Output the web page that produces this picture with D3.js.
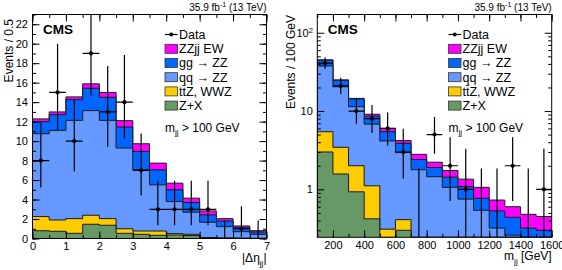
<!DOCTYPE html>
<html>
<head>
<meta charset="utf-8">
<script src="https://cdn.jsdelivr.net/npm/d3@7"></script>
<style>
  body { margin: 0; background: #fff; }
  text { font-family: "Liberation Sans", Arial, Helvetica, sans-serif; fill: #000; }
</style>
</head>
<body>
<div id="chart"></div>
<script>
////////////////////////////////////////////////////////////////////////
// Data

// |delta eta_jj| panel, bins of 0.5
const etaEdges = [0, 0.5, 1, 1.5, 2, 2.5, 3, 3.5, 4, 4.5, 5, 5.5, 6, 6.5, 7];
const etaZX  = [0.80, 0.74, 0.53, 1.46, 1.36, 0.53, 0.43, 0.33, 0.36, 0.30, 0.05, 0.03, 0.02, 0.01];
const etaTTZ = [1.45, 1.16, 1.51, 0.93, 0.68, 0.47, 0.34, 0.44, 0.14, 0.13, 0.05, 0.03, 0.02, 0.01];
const etaQQ  = [8.51, 9.20, 10.09, 10.74, 10.09, 8.29, 6.28, 4.74, 3.29, 2.27, 1.57, 1.16, 0.66, 0.41];
const etaGG  = [1.24, 1.62, 2.13, 2.30, 2.37, 2.16, 1.89, 1.54, 1.21, 0.99, 0.75, 0.58, 0.41, 0.24];
const etaEW  = [0.28, 0.28, 0.28, 0.45, 0.50, 0.65, 0.79, 0.69, 0.68, 0.45, 0.41, 0.24, 0.18, 0.13];
const etaData  = [8, 15, 10, 19, 13, 14, 7, 3, 3, 3, 3, 0, 1, 0];
const etaErrLo = [2.76, 3.87, 3.11, 4.32, 3.58, 3.72, 2.58, 1.63, 1.63, 1.63, 1.63, 0, 0.83, 0];
const etaErrHi = [3.94, 4.99, 4.26, 5.49, 4.71, 4.85, 3.77, 2.92, 2.92, 2.92, 2.92, 1.84, 2.30, 1.84];
const etaXTicks = [0, 1, 2, 3, 4, 5, 6, 7];
const etaYTicks = [0, 2, 4, 6, 8, 10, 12, 14, 16, 18, 20, 22];

// m_jj panel, bins of 100 GeV
const mjjEdges = [100, 200, 300, 400, 500, 600, 700, 800, 900, 1000, 1100, 1200, 1300, 1400, 1500, 1600];
const mjjZX  = [3.00, 1.57, 0.93, 0.42, 0.20, 0.30, 0.03, 0.02, 0.01, 0.01, 0.01, 0.01, 0.01, 0.01, 0.01];
const mjjTTZ = [2.44, 1.87, 1.07, 0.69, 0.11, 0.11, 0.02, 0.02, 0.01, 0.01, 0.01, 0.01, 0.01, 0.01, 0.01];
const mjjQQ  = [32.2, 16.96, 9.35, 5.69, 3.84, 2.54, 1.73, 1.41, 1.04, 0.73, 0.52, 0.30, 0.24, 0.18, 0.15];
const mjjGG  = [6.90, 4.30, 2.95, 1.80, 1.30, 0.92, 0.62, 0.45, 0.37, 0.33, 0.23, 0.21, 0.18, 0.12, 0.13];
const mjjEW  = [0.50, 0.30, 0.20, 0.50, 0.55, 0.33, 0.40, 0.32, 0.31, 0.27, 0.29, 0.20, 0.16, 0.16, 0.15];
const mjjData  = [41, 21, 10, 8, 6, 3, 0, 5, 2, 1, 0, 0, 2, 0, 1];
const mjjErrLo = [6.38, 4.55, 3.11, 2.76, 2.38, 1.63, 0, 2.16, 1.29, 0.83, 0, 0, 1.29, 0, 0.83];
const mjjErrHi = [7.46, 5.69, 4.26, 3.94, 3.58, 2.92, 1.84, 3.38, 2.64, 2.30, 1.84, 1.84, 2.64, 1.84, 2.30];
const mjjXTicks = [200, 400, 600, 800, 1000, 1200, 1400, 1600];
const mjjYTicks = [1, 10, 100];

const legendNames = ["ZZjj EW", "gg \u2192 ZZ", "qq \u2192 ZZ", "tt\u0304Z, WWZ", "Z+X"];
const colors = ["#ff00ff", "#0066ff", "#6699ff", "#ffcc00", "#669966"];

////////////////////////////////////////////////////////////////////////
// Layout

const W = 562, H = 270;
const svg = d3.select("#chart").append("svg")
  .attr("width", W).attr("height", H);
svg.append("rect").attr("width", W).attr("height", H).attr("fill", "#fff");

function drawPanel(p) {
  const g = svg.append("g");
  const [x0, x1] = p.x.range();
  const [yb, yt] = p.y.range();

  g.append("clipPath").attr("id", p.id + "-clip")
    .append("rect").attr("x", x0).attr("y", yt).attr("width", x1 - x0).attr("height", yb - yt);

  // stack, bottom layer first
  const layers = [p.zx, p.ttz, p.qq, p.gg, p.ew];
  const cum = [];
  layers.forEach((l, k) => {
    cum.push(l.map((v, i) => v + (k > 0 ? cum[k - 1][i] : 0)));
  });
  const layerColors = [colors[4], colors[3], colors[2], colors[1], colors[0]];

  const plot = g.append("g").attr("clip-path", `url(#${p.id}-clip)`);
  for (let k = cum.length - 1; k >= 0; k--) {
    const pts = [];
    cum[k].forEach((v, i) => {
      pts.push([p.x(p.edges[i]), p.y(v)], [p.x(p.edges[i + 1]), p.y(v)]);
    });
    plot.append("path")
      .attr("d", d3.area().x(d => d[0]).y0(yb).y1(d => d[1])(pts))
      .attr("fill", layerColors[k]);
    plot.append("path")
      .attr("d", d3.line()([[pts[0][0], yb], ...pts, [pts[pts.length - 1][0], yb]]))
      .attr("fill", "none").attr("stroke", "#1a1a1a").attr("stroke-width", 1);
  }

  // data with error bars
  const ymin = p.y.domain()[0];
  p.data.forEach((n, i) => {
    const cx = p.x((p.edges[i] + p.edges[i + 1]) / 2);
    const lo = Math.max(n - p.errLo[i], ymin);
    plot.append("line")
      .attr("x1", cx).attr("x2", cx)
      .attr("y1", p.y(lo)).attr("y2", p.y(n + p.errHi[i]))
      .attr("stroke", "#000").attr("stroke-width", 1.2);
    if (n > 0) {
      plot.append("line")
        .attr("x1", p.x(p.edges[i])).attr("x2", p.x(p.edges[i + 1]))
        .attr("y1", p.y(n)).attr("y2", p.y(n))
        .attr("stroke", "#000").attr("stroke-width", 1.2);
      plot.append("circle").attr("cx", cx).attr("cy", p.y(n)).attr("r", 2.1).attr("fill", "#000");
    }
  });

  // axes, ticks inside on all four sides
  const ax = (axis, tx, ty) => {
    const a = g.append("g").attr("transform", `translate(${tx},${ty})`).call(axis);
    a.select(".domain").remove();
    a.selectAll("line").attr("stroke", "#000");
    a.selectAll("text").attr("font-size", 11).attr("fill", "#000")
      .style("font-family", '"Liberation Sans", Arial, sans-serif');
    return a;
  };
  ax(d3.axisBottom(p.x).tickValues(p.xTicks).tickSize(-7).tickPadding(3.5).tickFormat(p.xFmt), 0, yb);
  ax(d3.axisBottom(p.x).tickValues(p.xMinor).tickSize(-3.5).tickFormat(""), 0, yb);
  ax(d3.axisTop(p.x).tickValues(p.xTicks).tickSize(-7).tickFormat(""), 0, yt);
  ax(d3.axisTop(p.x).tickValues(p.xMinor).tickSize(-3.5).tickFormat(""), 0, yt);
  const yl = ax(d3.axisLeft(p.y).tickValues(p.yTicks).tickSize(-7).tickPadding(4.5).tickFormat(p.yFmt), x0, 0);
  ax(d3.axisLeft(p.y).tickValues(p.yMinor).tickSize(-3.5).tickFormat(""), x0, 0);
  ax(d3.axisRight(p.y).tickValues(p.yTicks).tickSize(-7).tickFormat(""), x1, 0);
  ax(d3.axisRight(p.y).tickValues(p.yMinor).tickSize(-3.5).tickFormat(""), x1, 0);
  if (p.yLog) {
    yl.selectAll("text").text(null).each(function (d) {
      const t = d3.select(this);
      if (d === 100) {
        t.append("tspan").text("10");
        t.append("tspan").attr("dy", "-0.45em").attr("font-size", 7.5).text("2");
      } else {
        t.text(d);
      }
    });
  }

  g.append("rect")
    .attr("x", x0).attr("y", yt).attr("width", x1 - x0).attr("height", yb - yt)
    .attr("fill", "none").attr("stroke", "#000").attr("stroke-width", 1);

  // titles
  g.append("text")
    .attr("transform", `translate(${p.yTitleX},${p.yTitleEnd}) rotate(-90)`)
    .attr("text-anchor", "end").attr("font-size", 12).text(p.yTitle);

  const xt = g.append("text").attr("x", x1).attr("y", p.xTitleY)
    .attr("text-anchor", "end").attr("font-size", 12);
  p.xTitle(xt);

  // CMS and lumi
  g.append("text").attr("x", x0 + 10.5).attr("y", 34.3)
    .attr("font-size", 13.5).attr("font-weight", "bold").text("CMS");
  const lumi = g.append("text").attr("x", x1).attr("y", 11)
    .attr("text-anchor", "end").attr("font-size", 10);
  lumi.append("tspan").text("35.9 fb");
  lumi.append("tspan").attr("dy", -4).attr("font-size", 7).text("-1");
  lumi.append("tspan").attr("dy", 4).text(" (13 TeV)");

  // legend
  const lx = p.legendX;
  const rowY = [34.5, 48.8, 63, 77.2, 91.4, 105.6];
  const leg = g.append("g");
  leg.append("line").attr("x1", lx).attr("x2", lx + 12.5).attr("y1", rowY[0]).attr("y2", rowY[0])
    .attr("stroke", "#000").attr("stroke-width", 1.2);
  leg.append("circle").attr("cx", lx + 6.25).attr("cy", rowY[0]).attr("r", 2).attr("fill", "#000");
  leg.append("text").attr("x", lx + 14).attr("y", rowY[0] + 4.4).attr("font-size", 12.5).text("Data");
  legendNames.forEach((name, i) => {
    leg.append("rect")
      .attr("x", lx).attr("y", rowY[i + 1] - 4.5).attr("width", 12.5).attr("height", 9)
      .attr("fill", colors[i]).attr("stroke", "#333").attr("stroke-width", 0.8);
    leg.append("text").attr("x", lx + 14).attr("y", rowY[i + 1] + 4.4)
      .attr("font-size", 12.5).text(name);
  });

  const cut = g.append("text").attr("x", lx).attr("y", 131.5).attr("font-size", 12);
  cut.append("tspan").text("m");
  cut.append("tspan").attr("dy", 3.5).attr("font-size", 8).text("jj");
  cut.append("tspan").attr("dy", -3.5).text(" > 100 GeV");
}

////////////////////////////////////////////////////////////////////////
// Left panel: |delta eta_jj|

const xEta = d3.scaleLinear().domain([0, 7]).range([32.5, 266.5]);
const yEta = d3.scaleLinear().domain([0, 23]).range([238.5, 14.5]);

drawPanel({
  id: "eta", x: xEta, y: yEta, edges: etaEdges,
  zx: etaZX, ttz: etaTTZ, qq: etaQQ, gg: etaGG, ew: etaEW,
  data: etaData, errLo: etaErrLo, errHi: etaErrHi,
  xTicks: etaXTicks, xMinor: d3.range(0, 7.01, 0.5),
  yTicks: etaYTicks, yMinor: d3.range(0, 23.01, 1),
  xFmt: d3.format("d"), yFmt: d3.format("d"),
  yTitle: "Events / 0.5", yTitleX: 12.5, yTitleEnd: 19,
  legendX: 165, xTitleY: 262,
  xTitle: t => {
    t.append("tspan").text("|\u0394\u03b7");
    t.append("tspan").attr("dy", 3.5).attr("font-size", 8).text("jj");
    t.append("tspan").attr("dy", -3.5).text("|");
  }
});

////////////////////////////////////////////////////////////////////////
// Right panel: m_jj, log scale

const xMjj = d3.scaleLinear().domain([100, 1600]).range([317.3, 551.7]);
const yMjj = d3.scaleLog().domain([0.244, 171]).range([237.3, 14.5]).clamp(true);

const logMinor = [];
[0.1, 1, 10, 100].forEach(dec => {
  for (let m = 2; m <= 9; m++) if (dec * m >= 0.244 && dec * m <= 171) logMinor.push(dec * m);
});

drawPanel({
  id: "mjj", x: xMjj, y: yMjj, yLog: true, edges: mjjEdges,
  zx: mjjZX, ttz: mjjTTZ, qq: mjjQQ, gg: mjjGG, ew: mjjEW,
  data: mjjData, errLo: mjjErrLo, errHi: mjjErrHi,
  xTicks: mjjXTicks, xMinor: d3.range(100, 1601, 100),
  yTicks: mjjYTicks, yMinor: logMinor,
  xFmt: d3.format("d"), yFmt: d3.format("d"),
  yTitle: "Events / 100 GeV", yTitleX: 295, yTitleEnd: 15,
  legendX: 448.5, xTitleY: 260,
  xTitle: t => {
    t.append("tspan").text("m");
    t.append("tspan").attr("dy", 3.5).attr("font-size", 8).text("jj");
    t.append("tspan").attr("dy", -3.5).text(" [GeV]");
  }
});
</script>
</body>
</html>
